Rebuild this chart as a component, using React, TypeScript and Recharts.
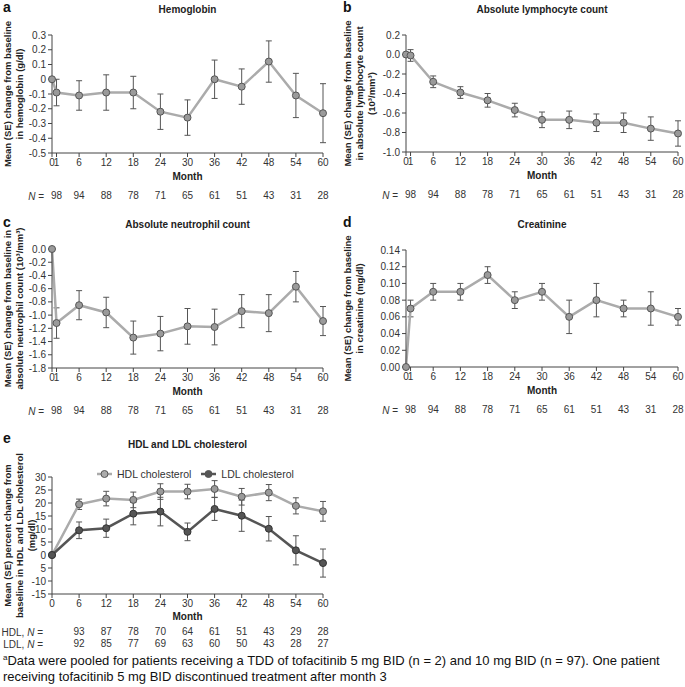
import React from "react";
import { LineChart, Line, XAxis, YAxis, ErrorBar, Legend } from "recharts";

const FONT = '"Liberation Sans", Arial, Helvetica, sans-serif';
const AXIS = "#444444";
const TEXT = "#333333";
const LINE_LIGHT = "#ababab";
const DOT_LIGHT = "#9a9a9a";
const LINE_DARK = "#555555";

// months for panels a-d (0 = baseline, 1 = first visit)
const months = [0, 1, 6, 12, 18, 24, 30, 36, 42, 48, 54, 60];
const nMonths = [1, 6, 12, 18, 24, 30, 36, 42, 48, 54, 60];
const nPatients = [98, 94, 88, 78, 71, 65, 61, 51, 43, 31, 28];

const hemoglobin = [0, -0.09, -0.11, -0.09, -0.09, -0.22, -0.26, 0.0, -0.05, 0.12, -0.11, -0.23];
const hemoglobinSe = [0, 0.09, 0.1, 0.12, 0.11, 0.12, 0.12, 0.13, 0.12, 0.14, 0.15, 0.2];
const hemoglobinTicks = [0.3, 0.2, 0.1, 0, -0.1, -0.2, -0.3, -0.4, -0.5];

const lymphocytes = [0, -0.01, -0.28, -0.39, -0.47, -0.57, -0.67, -0.67, -0.7, -0.7, -0.76, -0.81];
const lymphocytesSe = [0, 0.06, 0.06, 0.06, 0.07, 0.07, 0.08, 0.09, 0.09, 0.1, 0.12, 0.13];
const lymphocyteTicks = [0.2, 0, -0.2, -0.4, -0.6, -0.8, -1.0];

const neutrophils = [0, -1.12, -0.85, -0.96, -1.34, -1.28, -1.17, -1.18, -0.94, -0.97, -0.57, -1.09];
const neutrophilsSe = [0, 0.23, 0.22, 0.23, 0.25, 0.26, 0.27, 0.27, 0.25, 0.28, 0.23, 0.22];
const neutrophilTicks = [0, -0.2, -0.4, -0.6, -0.8, -1.0, -1.2, -1.4, -1.6, -1.8];

const creatinine = [0, 0.07, 0.09, 0.09, 0.11, 0.08, 0.09, 0.06, 0.08, 0.07, 0.07, 0.06];
const creatinineSe = [0, 0.01, 0.01, 0.01, 0.01, 0.01, 0.01, 0.02, 0.02, 0.01, 0.02, 0.01];
const creatinineTicks = [0.14, 0.12, 0.1, 0.08, 0.06, 0.04, 0.02, 0];

// panel e
const lipidMonths = [0, 6, 12, 18, 24, 30, 36, 42, 48, 54, 60];
const hdl = [0, 19.5, 21.7, 21.2, 24.4, 24.4, 25.4, 22.4, 24.0, 18.9, 16.8];
const hdlSe = [0, 2.0, 2.8, 3.0, 3.0, 2.8, 3.2, 3.2, 3.1, 3.1, 3.8];
const ldl = [0, 9.5, 10.3, 15.9, 16.7, 8.9, 17.7, 15.1, 10.1, 1.8, -3.1];
const ldlSe = [0, 3.2, 3.5, 4.3, 5.5, 3.4, 4.4, 6.0, 4.7, 5.6, 5.4];
const lipidTicks = [30, 25, 20, 15, 10, 5, 0, -5, -10, -15];
const hdlN = [93, 87, 78, 70, 64, 61, 51, 43, 29, 28];
const ldlN = [92, 85, 77, 69, 63, 60, 50, 43, 28, 27];
const lipidNMonths = [6, 12, 18, 24, 30, 36, 42, 48, 54, 60];

const tickStyle = { fontSize: 10, fill: TEXT, fontFamily: FONT };

const yLabel = (lines: string[], xs: number[]) => (props: any) => {
  const vb = props.viewBox;
  const cy = vb.y + vb.height / 2;
  return (
    <g>
      {lines.map((t, i) => (
        <text
          key={i}
          x={xs[i]}
          y={cy}
          transform={`rotate(-90, ${xs[i]}, ${cy})`}
          textAnchor="middle"
          dominantBaseline="central"
          fontSize={9.5}
          fontWeight="bold"
          fill="#222"
          fontFamily={FONT}
        >
          {t}
        </text>
      ))}
    </g>
  );
};

const nLabel = (prefix: string, endX: number, dy: number) => (props: any) => {
  const vb = props.viewBox;
  return (
    <text x={endX} y={vb.y + dy} textAnchor="end" fontSize={10} fill={TEXT} fontFamily={FONT}>
      {prefix}
      <tspan fontStyle="italic">N</tspan>
      {" ="}
    </text>
  );
};

interface PanelCfg {
  letter: string;
  title: string;
  left: number;
  top: number;
  width: number;
  height: number;
  plotTop: number;
  plotBottom: number;
  yWidth: number;
  right: number;
  values: number[];
  se: number[];
  yTicks: number[];
  yFmt: (v: number) => string;
  yLines: string[];
  yLineX: number[];
}

function Panel(p: PanelCfg) {
  const data = months.map((m, i) => ({ month: m, value: p.values[i], se: p.se[i] }));
  const mainH = 30;
  const nH = 22;
  const bottom = p.height - p.plotBottom - mainH - nH;
  const plotW = p.width - p.right - p.yWidth;
  const yMin = Math.min(...p.yTicks);
  const yMax = Math.max(...p.yTicks);
  return (
    <div style={{ position: "absolute", left: p.left, top: p.top, width: p.width, height: p.height }}>
      <div style={{ position: "absolute", left: 3, top: 0, fontSize: 14, lineHeight: "14px", fontWeight: "bold" }}>
        {p.letter}
      </div>
      <div
        style={{
          position: "absolute",
          left: p.yWidth,
          width: plotW,
          top: 4,
          textAlign: "center",
          fontSize: 10,
          fontWeight: "bold",
          color: "#222",
        }}
      >
        {p.title}
      </div>
      <LineChart
        width={p.width}
        height={p.height}
        data={data}
        margin={{ top: p.plotTop, right: p.right, bottom, left: 0 }}
      >
        <XAxis
          xAxisId="a_month"
          dataKey="month"
          type="number"
          domain={[0, 60]}
          ticks={months}
          interval={0}
          tickSize={4}
          stroke={AXIS}
          tick={tickStyle}
          height={mainH}
          label={{ value: "Month", position: "insideBottom", offset: 3, fontSize: 10, fontWeight: "bold", fill: "#222" }}
        />
        <XAxis
          xAxisId="b_n"
          dataKey="month"
          type="number"
          domain={[0, 60]}
          ticks={nMonths}
          interval={0}
          axisLine={false}
          tickLine={false}
          tickSize={0}
          tickMargin={9}
          height={nH}
          tick={tickStyle}
          tickFormatter={(v: number) => String(nPatients[nMonths.indexOf(v)])}
          label={{ content: nLabel("", p.yWidth - 8, 17) }}
        />
        <YAxis
          type="number"
          domain={[yMin, yMax]}
          ticks={p.yTicks}
          interval={0}
          tickSize={4}
          width={p.yWidth}
          stroke={AXIS}
          tick={tickStyle}
          tickFormatter={p.yFmt}
          label={{ content: yLabel(p.yLines, p.yLineX) }}
        />
        <Line
          xAxisId="a_month"
          dataKey="value"
          stroke={LINE_LIGHT}
          strokeWidth={2.5}
          dot={{ r: 3.5, fill: DOT_LIGHT, stroke: "#555", strokeWidth: 1 }}
          isAnimationActive={false}
        >
          <ErrorBar dataKey="se" width={3} stroke="#555" strokeWidth={1} />
        </Line>
      </LineChart>
    </div>
  );
}

const legendContent = (props: any) => {
  const items = props.payload || [];
  return (
    <div style={{ display: "flex", gap: 10, fontFamily: FONT, fontSize: 10.5, color: TEXT }}>
      {items.map((it: any) => (
        <div key={it.value} style={{ display: "flex", alignItems: "center", gap: 5 }}>
          <svg width={15} height={10}>
            <line x1={0} y1={5} x2={15} y2={5} stroke={it.color} strokeWidth={2.5} />
            <circle cx={7.5} cy={5} r={3.5} fill={it.color} stroke="#555" strokeWidth={1} />
          </svg>
          <span>{it.value}</span>
        </div>
      ))}
    </div>
  );
};

function LipidPanel() {
  const data = lipidMonths.map((m, i) => ({ month: m, hdl: hdl[i], hdlSe: hdlSe[i], ldl: ldl[i], ldlSe: ldlSe[i] }));
  const yWidth = 52;
  const right = 17;
  const plotTop = 47;
  const plotBottom = 164;
  const height = 220;
  const mainH = 28;
  const rowH = 12;
  const bottom = height - plotBottom - mainH - rowH * 2;
  return (
    <div style={{ position: "absolute", left: 0, top: 430, width: 340, height }}>
      <div style={{ position: "absolute", left: 3, top: 1, fontSize: 14, lineHeight: "14px", fontWeight: "bold" }}>e</div>
      <div
        style={{
          position: "absolute",
          left: yWidth,
          width: 340 - right - yWidth,
          top: 9,
          textAlign: "center",
          fontSize: 10,
          fontWeight: "bold",
          color: "#222",
        }}
      >
        HDL and LDL cholesterol
      </div>
      <LineChart width={340} height={height} data={data} margin={{ top: plotTop, right, bottom, left: 0 }}>
        <XAxis
          xAxisId="a_month"
          dataKey="month"
          type="number"
          domain={[0, 60]}
          ticks={lipidMonths}
          interval={0}
          tickSize={4}
          stroke={AXIS}
          tick={tickStyle}
          height={mainH}
          label={{ value: "Month", position: "insideBottom", offset: 2, fontSize: 10, fontWeight: "bold", fill: "#222" }}
        />
        <XAxis
          xAxisId="b_hdl"
          dataKey="month"
          type="number"
          domain={[0, 60]}
          ticks={lipidNMonths}
          interval={0}
          axisLine={false}
          tickLine={false}
          tickSize={0}
          tickMargin={6}
          height={rowH}
          tick={tickStyle}
          tickFormatter={(v: number) => String(hdlN[lipidNMonths.indexOf(v)])}
          label={{ content: nLabel("HDL, ", 43, 14) }}
        />
        <XAxis
          xAxisId="c_ldl"
          dataKey="month"
          type="number"
          domain={[0, 60]}
          ticks={lipidNMonths}
          interval={0}
          axisLine={false}
          tickLine={false}
          tickSize={0}
          tickMargin={6}
          height={rowH}
          tick={tickStyle}
          tickFormatter={(v: number) => String(ldlN[lipidNMonths.indexOf(v)])}
          label={{ content: nLabel("LDL, ", 43, 14) }}
        />
        <YAxis
          type="number"
          domain={[-15, 30]}
          ticks={lipidTicks}
          interval={0}
          tickSize={4}
          width={yWidth}
          stroke={AXIS}
          tick={tickStyle}
          tickFormatter={(v: number) => (v === -5 ? "5" : String(v))}
          label={{
            content: yLabel(
              ["Mean (SE) percent change from", "baseline in HDL and LDL cholesterol", "(mg/dl)"],
              [7, 19, 31]
            ),
          }}
        />
        <Legend
          layout="horizontal"
          verticalAlign="middle"
          align="center"
          wrapperStyle={{ top: 38, left: 97, width: 220 }}
          content={legendContent}
        />
        <Line
          xAxisId="a_month"
          name="HDL cholesterol"
          dataKey="hdl"
          stroke={LINE_LIGHT}
          strokeWidth={2.5}
          dot={{ r: 3.5, fill: DOT_LIGHT, stroke: "#555", strokeWidth: 1 }}
          isAnimationActive={false}
        >
          <ErrorBar dataKey="hdlSe" width={3} stroke="#555" strokeWidth={1} />
        </Line>
        <Line
          xAxisId="a_month"
          name="LDL cholesterol"
          dataKey="ldl"
          stroke={LINE_DARK}
          strokeWidth={2.5}
          dot={{ r: 3.5, fill: LINE_DARK, stroke: "#333", strokeWidth: 1 }}
          isAnimationActive={false}
        >
          <ErrorBar dataKey="ldlSe" width={3} stroke="#555" strokeWidth={1} />
        </Line>
      </LineChart>
    </div>
  );
}

export default function App() {
  return (
    <div
      style={{
        position: "absolute",
        left: 0,
        top: 0,
        width: 685,
        height: 687,
        background: "#fff",
        fontFamily: FONT,
        color: "#111",
        overflow: "hidden",
      }}
    >
      <Panel
        letter="a"
        title="Hemoglobin"
        left={0}
        top={0}
        width={340}
        height={210}
        plotTop={35}
        plotBottom={153}
        yWidth={52}
        right={17}
        values={hemoglobin}
        se={hemoglobinSe}
        yTicks={hemoglobinTicks}
        yFmt={(v) => (v === 0 ? "0" : v.toFixed(1))}
        yLines={["Mean (SE) change from baseline", "in hemoglobin (g/dl)"]}
        yLineX={[7, 19]}
      />
      <Panel
        letter="b"
        title="Absolute lymphocyte count"
        left={340}
        top={0}
        width={345}
        height={210}
        plotTop={35}
        plotBottom={152}
        yWidth={66}
        right={7}
        values={lymphocytes}
        se={lymphocytesSe}
        yTicks={lymphocyteTicks}
        yFmt={(v) => v.toFixed(1)}
        yLines={["Mean (SE) change from baseline", "in absolute lymphocyte count", "(10³/mm³)"]}
        yLineX={[7, 19, 31]}
      />
      <Panel
        letter="c"
        title="Absolute neutrophil count"
        left={0}
        top={215}
        width={340}
        height={210}
        plotTop={34}
        plotBottom={153}
        yWidth={52}
        right={17}
        values={neutrophils}
        se={neutrophilsSe}
        yTicks={neutrophilTicks}
        yFmt={(v) => v.toFixed(1)}
        yLines={["Mean (SE) change from baseline in", "absolute neutrophil count (10³/mm³)"]}
        yLineX={[7, 19]}
      />
      <Panel
        letter="d"
        title="Creatinine"
        left={340}
        top={215}
        width={345}
        height={210}
        plotTop={35}
        plotBottom={152}
        yWidth={66}
        right={7}
        values={creatinine}
        se={creatinineSe}
        yTicks={creatinineTicks}
        yFmt={(v) => v.toFixed(2)}
        yLines={["Mean (SE) change from baseline", "in creatinine (mg/dl)"]}
        yLineX={[7, 19]}
      />
      <LipidPanel />
      <div
        style={{
          position: "absolute",
          left: 3,
          top: 653,
          width: 682,
          fontSize: 13,
          lineHeight: "16px",
          color: "#111",
        }}
      >
        <sup style={{ fontSize: 8, lineHeight: 0 }}>a</sup>Data were pooled for patients receiving a TDD of tofacitinib 5 mg BID (n = 2) and 10 mg
        BID (n = 97). One patient receiving tofacitinib 5 mg BID discontinued treatment after month 3
      </div>
    </div>
  );
}
